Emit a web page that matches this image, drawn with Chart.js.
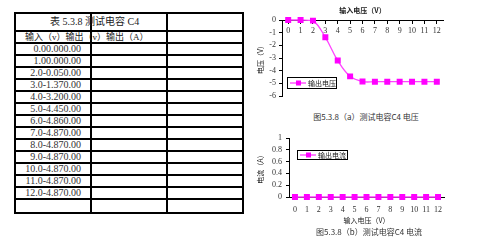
<!DOCTYPE html>
<html lang="zh">
<head>
<meta charset="UTF-8">
<title>测试电容 C4</title>
<script src="https://cdn.jsdelivr.net/npm/chart.js"></script>
<style>
  body { margin: 0; width: 500px; height: 252px; background: #fff; position: relative; overflow: hidden;
         font-family: "Liberation Serif", "Noto Sans CJK SC", serif; color: #222; }
  #tbl { position: absolute; left: 14px; top: 12px; border-collapse: collapse; table-layout: fixed; width: 228px; }
  #tbl td { border: 2px solid #000; padding: 0; white-space: nowrap; overflow: visible; font-size: 10px; line-height: 10px; }
  #tbl td.num { text-align: right; padding-right: 9px; color: #333; }
  .box { position: absolute; }
  .cap { position: absolute; font-size: 8px; white-space: nowrap; transform: translateX(-50%); font-family: "Noto Sans CJK SC", sans-serif; color: #333; }
</style>
</head>
<body>
<table id="tbl">
  <colgroup><col style="width:76px"><col style="width:76px"><col style="width:76px"></colgroup>
  <tbody id="tb"></tbody>
</table>

<div class="box" style="left:250px;top:0;width:250px;height:105px"><canvas id="vChart"></canvas></div>
<div class="cap" style="left:366px;top:111px">图5.3.8（a）测试电容C4 电压</div>
<div class="box" style="left:250px;top:125px;width:250px;height:105px"><canvas id="iChart"></canvas></div>
<div class="cap" style="left:369px;top:226px">图5.3.8（b）测试电容C4 电流</div>

<script>
// 输入电压 (V)
const inputs = [0, 1, 2, 3, 4, 5, 6, 7, 8, 9, 10, 11, 12];
// 输出电压 (V)
const outVolts = [0, 0, -0.05, -1.37, -3.2, -4.45, -4.86, -4.87, -4.87, -4.87, -4.87, -4.87, -4.87];
// 输出电流 (A)
const outAmps = [0, 0, 0, 0, 0, 0, 0, 0, 0, 0, 0, 0, 0];
const xLabels = inputs.map(String);

// table
const tb = document.getElementById('tb');
let html = '<tr style="height:18px"><td style="padding-left:34px;font-size:10px">表 5.3.8 测试电容 C4</td><td></td><td></td></tr>';
html += '<tr style="height:12px"><td style="padding-left:9px;font-size:9px">输入（v）输出（v）输出（A）</td><td></td><td></td></tr>';
inputs.forEach((v, i) => {
  const txt = v.toFixed(1) + outVolts[i].toFixed(2) + outAmps[i].toFixed(2);
  html += '<tr style="height:12px"><td class="num">' + txt + '</td><td></td><td></td></tr>';
});
html += '<tr style="height:14px"><td></td><td></td><td></td></tr>';
tb.innerHTML = html;

const PINK = '#ff00ff';
const tickFont = { family: '"Liberation Serif", serif', size: 8 };
const cjkFont = { family: '"Noto Sans CJK SC", sans-serif', size: 7 };

// draws top axis title and a framed legend inside the plot
const extras = {
  id: 'extras',
  afterDraw(chart, args, opts) {
    const ctx = chart.ctx, a = chart.chartArea;
    ctx.save();
    if (opts.topTitle) {
      ctx.font = 'bold 7px "Noto Sans CJK SC"';
      ctx.fillStyle = '#222';
      ctx.textAlign = 'center';
      ctx.textBaseline = 'middle';
      ctx.fillText(opts.topTitle, (a.left + a.right) / 2, a.top - 10);
    }
    const lg = opts.legend;
    if (lg) {
      const ds = chart.data.datasets[0];
      const x = Math.round(a.left + lg.x), y = Math.round(a.top + lg.y);
      ctx.fillStyle = '#fff';
      ctx.fillRect(x, y, lg.w, lg.h);
      ctx.strokeStyle = '#000';
      ctx.lineWidth = 1;
      ctx.strokeRect(x + 0.5, y + 0.5, lg.w, lg.h);
      const cy = y + lg.h / 2 + 0.5;
      ctx.strokeStyle = PINK;
      ctx.beginPath();
      ctx.moveTo(x + 3, cy);
      ctx.lineTo(x + 19, cy);
      ctx.stroke();
      ctx.fillStyle = PINK;
      ctx.fillRect(x + 9, cy - 2.5, 5, 5);
      ctx.fillStyle = '#222';
      ctx.font = '7px "Noto Sans CJK SC"';
      ctx.textAlign = 'left';
      ctx.textBaseline = 'middle';
      ctx.fillText(ds.label, x + 21, cy);
    }
    ctx.restore();
  }
};

function lineSet(label, data) {
  return {
    label: label,
    data: data,
    borderColor: '#ff44ff',
    backgroundColor: PINK,
    pointBackgroundColor: PINK,
    pointBorderColor: PINK,
    pointStyle: 'rect',
    pointRadius: 3.3,
    borderWidth: 1.3,
    tension: 0.4,
    clip: false
  };
}

new Chart(document.getElementById('vChart'), {
  type: 'line',
  data: { labels: xLabels, datasets: [lineSet('输出电压', outVolts)] },
  plugins: [extras],
  options: {
    responsive: true,
    maintainAspectRatio: false,
    animation: false,
    layout: { padding: { top: 20, right: 57, bottom: 9, left: 0 } },
    plugins: {
      legend: { display: false },
      tooltip: { enabled: false },
      extras: { topTitle: '输入电压（V）', legend: { x: 5, y: 57, w: 49, h: 11 } }
    },
    scales: {
      x: {
        position: { y: 0 },
        offset: true,
        grid: { display: true, drawOnChartArea: false, tickLength: 3, color: '#000' },
        border: { color: '#000', width: 1 },
        ticks: { font: tickFont, color: '#333', padding: 3, maxRotation: 0, autoSkip: false }
      },
      y: {
        min: -6, max: 0,
        afterFit: s => { s.width = 32; },
        ticks: { stepSize: 1, font: tickFont, color: '#333', padding: 3, autoSkip: false },
        grid: { display: true, drawOnChartArea: false, tickLength: 3, color: '#000' },
        border: { color: '#000', width: 1 },
        title: { display: true, text: '电压（V）', font: cjkFont, color: '#222', padding: { top: 6, bottom: 0 } }
      }
    }
  }
});

new Chart(document.getElementById('iChart'), {
  type: 'line',
  data: { labels: xLabels, datasets: [lineSet('输出电流', outAmps)] },
  plugins: [extras],
  options: {
    responsive: true,
    maintainAspectRatio: false,
    animation: false,
    layout: { padding: { top: 13, right: 56, bottom: 5, left: 0 } },
    plugins: {
      legend: { display: false },
      tooltip: { enabled: false },
      extras: { legend: { x: 8, y: 12, w: 50, h: 9 } }
    },
    scales: {
      x: {
        offset: true,
        afterFit: s => { s.height = 28; },
        grid: { display: true, drawOnChartArea: false, tickLength: 3, color: '#000' },
        border: { color: '#000', width: 1 },
        ticks: { font: tickFont, color: '#333', padding: 5, maxRotation: 0, autoSkip: false },
        title: { display: true, text: '输入电压（V）', font: cjkFont, color: '#222', padding: 0 }
      },
      y: {
        min: 0, max: 1,
        afterFit: s => { s.width = 39; },
        ticks: {
          stepSize: 0.2, font: tickFont, color: '#333', padding: 4, autoSkip: false,
          callback: v => String(Number(v.toFixed(1)))
        },
        grid: { display: true, drawOnChartArea: false, tickLength: 3, color: '#000' },
        border: { color: '#000', width: 1 },
        title: { display: true, text: '电流（A）', font: cjkFont, color: '#222', padding: { top: 6, bottom: 0 } }
      }
    }
  }
});
</script>
</body>
</html>
